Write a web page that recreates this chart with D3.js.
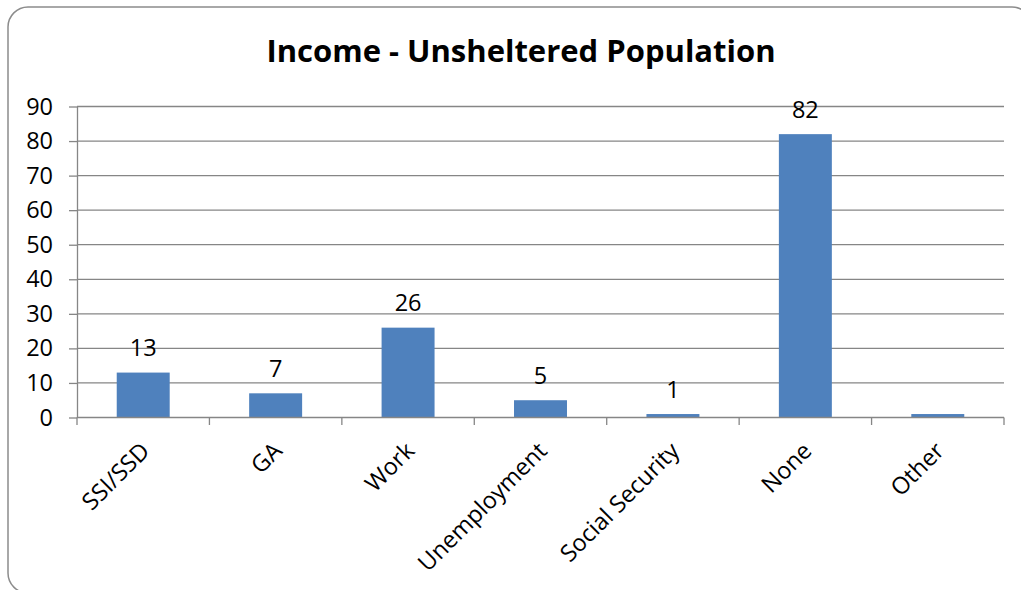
<!DOCTYPE html>
<html>
<head>
<meta charset="utf-8">
<script src="https://cdn.jsdelivr.net/npm/d3@7/dist/d3.min.js"></script>
<style>
  html, body { margin: 0; padding: 0; background: #fff; }
  svg { display: block; }
  text { font-family: "Open Sans", "Liberation Sans", sans-serif; fill: #000; }
</style>
</head>
<body>
<svg id="chart" width="1021" height="590"></svg>
<script>
// Income sources reported by the unsheltered population
const categories = ["SSI/SSD", "GA", "Work", "Unemployment", "Social Security", "None", "Other"];
const counts = [13, 7, 26, 5, 1, 82, 1];
// Value labels shown above the bars (none drawn for "Other")
const valueLabels = ["13", "7", "26", "5", "1", "82", null];
const yTicks = [0, 10, 20, 30, 40, 50, 60, 70, 80, 90];
const chartTitle = "Income - Unsheltered Population";

const svg = d3.select("#chart");
const plot = { left: 77, right: 1004, top: 106.5, bottom: 417.5 };
const gridColor = "#868686";
const barColor = "#4F81BD";
const labelSize = "23.5px";

// Chart frame with rounded corners
svg.append("rect")
  .attr("x", 8).attr("y", 7)
  .attr("width", 1024).attr("height", 586)
  .attr("rx", 20).attr("ry", 20)
  .attr("fill", "#fff")
  .attr("stroke", "#8c8c8c")
  .attr("stroke-width", 1.5);

// Title
svg.append("text")
  .attr("x", 521).attr("y", 62)
  .attr("text-anchor", "middle")
  .style("font-size", "31px")
  .style("font-weight", "bold")
  .text(chartTitle);

const x = d3.scaleBand()
  .domain(categories)
  .range([plot.left, plot.right])
  .paddingInner(0.6)
  .paddingOuter(0.3);

const y = d3.scaleLinear()
  .domain([0, 90])
  .range([plot.bottom, plot.top]);

// Horizontal gridlines
svg.append("g")
  .selectAll("line")
  .data(yTicks.filter(d => d > 0))
  .join("line")
  .attr("x1", plot.left).attr("x2", plot.right)
  .attr("y1", d => y(d)).attr("y2", d => y(d))
  .attr("stroke", gridColor)
  .attr("stroke-width", 1.3);

// Y axis
const yAxis = svg.append("g")
  .attr("transform", `translate(${plot.left},0)`)
  .call(d3.axisLeft(y).tickValues(yTicks).tickSize(8).tickPadding(16).tickSizeOuter(0));
yAxis.select(".domain").attr("stroke", gridColor).attr("stroke-width", 1.3);
yAxis.selectAll(".tick line").attr("stroke", gridColor).attr("stroke-width", 1.3);
yAxis.selectAll(".tick text")
  .style("font-size", labelSize)
  .style("font-family", "'Open Sans', sans-serif")
  .attr("fill", "#000");

const rows = categories.map((c, i) => ({ c, v: counts[i], label: valueLabels[i] }));

// Bars
svg.append("g")
  .selectAll("rect")
  .data(rows)
  .join("rect")
  .attr("x", d => x(d.c))
  .attr("y", d => y(d.v))
  .attr("width", x.bandwidth())
  .attr("height", d => y(0) - y(d.v))
  .attr("fill", barColor);

// X axis with tick marks on category boundaries
const boundaries = d3.range(categories.length + 1).map(i => plot.left + i * x.step());
const xAxisG = svg.append("g");
xAxisG.append("line")
  .attr("x1", plot.left).attr("x2", plot.right)
  .attr("y1", y(0)).attr("y2", y(0))
  .attr("stroke", gridColor).attr("stroke-width", 1.5);
xAxisG.selectAll("line.tick")
  .data(boundaries)
  .join("line")
  .attr("class", "tick")
  .attr("x1", d => d).attr("x2", d => d)
  .attr("y1", y(0)).attr("y2", y(0) + 7.5)
  .attr("stroke", gridColor).attr("stroke-width", 1.3);

// Rotated category labels
xAxisG.selectAll("text")
  .data(categories)
  .join("text")
  .attr("transform", d => `translate(${x(d) + x.bandwidth() / 2 + 2},${y(0) + 29}) rotate(-45)`)
  .attr("text-anchor", "end")
  .attr("dy", "0.35em")
  .style("font-size", labelSize)
  .text(d => d);

// Value labels
svg.append("g")
  .selectAll("text")
  .data(rows.filter(d => d.label !== null))
  .join("text")
  .attr("x", d => x(d.c) + x.bandwidth() / 2)
  .attr("y", d => y(d.v) - 16.5)
  .attr("text-anchor", "middle")
  .style("font-size", labelSize)
  .text(d => d.label);
</script>
</body>
</html>
